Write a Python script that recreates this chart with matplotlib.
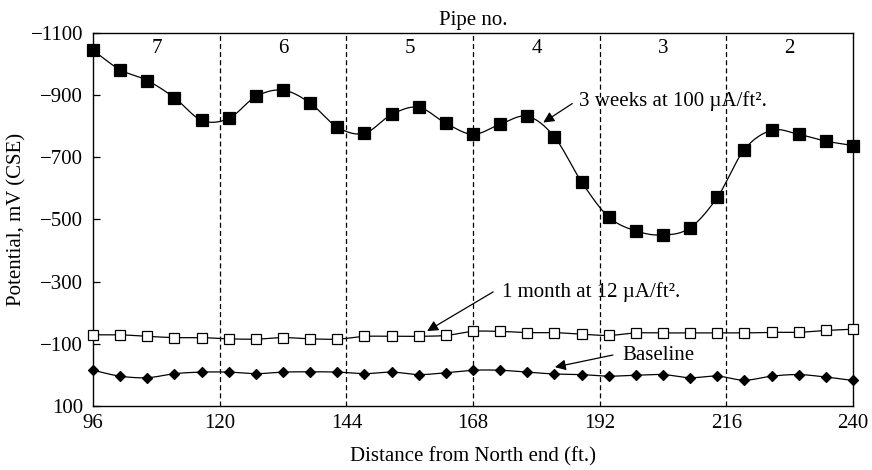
import numpy as np
import matplotlib.pyplot as plt
from matplotlib.ticker import FixedFormatter

plt.rcParams['font.family'] = ['Liberation Serif', 'DejaVu Serif']

# distance along the line (ft)
distance = [96.0, 101.1, 106.3, 111.4, 116.6, 121.7, 126.9, 132.0, 137.1, 142.3,
            147.4, 152.6, 157.7, 162.9, 168.0, 173.1, 178.3, 183.4, 188.6, 193.7,
            198.9, 204.0, 209.1, 214.3, 219.4, 224.6, 229.7, 234.9, 240.0]

# potentials, mV (CSE)
three_weeks = [-1044, -982, -947, -892, -819, -825, -896, -916, -875, -797,
               -777, -838, -861, -809, -774, -806, -832, -766, -620, -508,
               -463, -450, -473, -572, -725, -787, -774, -752, -738]
one_month = [-129, -129, -124, -120, -120, -116, -115, -120, -116, -115,
             -124, -124, -124, -127, -140, -140, -136, -136, -131, -127,
             -135, -135, -135, -135, -135, -137, -137, -143, -147]
baseline = [-15, 4, 9, -4, -9, -9, -4, -9, -10, -9,
            -4, -9, -1, -7, -15, -15, -9, -3, -1, 4,
            1, -1, 9, 4, 17, 4, -1, 7, 18]

pipe_bounds = [120, 144, 168, 192, 216]
pipe_centers = [108, 132, 156, 180, 204, 228]
pipe_labels = ['7', '6', '5', '4', '3', '2']
xticks = [96, 120, 144, 168, 192, 216, 240]
yticks = [100, -100, -300, -500, -700, -900, -1100]


def smooth(x, y, n=16):
    # Catmull-Rom curve through the points, only used for the drawn line
    x = np.asarray(x, float)
    y = np.asarray(y, float)
    px = np.concatenate([[2 * x[0] - x[1]], x, [2 * x[-1] - x[-2]]])
    py = np.concatenate([[2 * y[0] - y[1]], y, [2 * y[-1] - y[-2]]])
    t = np.linspace(0, 1, n, endpoint=False)
    xs, ys = [], []
    for i in range(1, len(px) - 2):
        for p, out in ((px, xs), (py, ys)):
            p0, p1, p2, p3 = p[i - 1], p[i], p[i + 1], p[i + 2]
            out.append(0.5 * (2 * p1 + (-p0 + p2) * t
                              + (2 * p0 - 5 * p1 + 4 * p2 - p3) * t ** 2
                              + (-p0 + 3 * p1 - 3 * p2 + p3) * t ** 3))
    xs.append([x[-1]])
    ys.append([y[-1]])
    return np.concatenate(xs), np.concatenate(ys)


fig = plt.figure(figsize=(8.72, 4.70), dpi=100)
ax = fig.add_axes([0.1067, 0.1362, 0.8716, 0.7936])

for b in pipe_bounds:
    ax.axvline(b, color='black', lw=0.9, dashes=(4, 2.5), zorder=1)

fs = 15

for ys, mk, fc, ms in ((three_weeks, 's', 'black', 8),
                       (one_month, 's', 'white', 7),
                       (baseline, 'D', 'black', 5)):
    sx, sy = smooth(distance, ys)
    ax.plot(sx, sy, color='black', lw=0.9, zorder=2, clip_on=False)
    ax.plot(distance, ys, linestyle='none', marker=mk, markersize=ms,
            markerfacecolor=fc, markeredgecolor='black', markeredgewidth=0.9,
            zorder=3, clip_on=False)

for xc, lab in zip(pipe_centers, pipe_labels):
    ax.text(xc, -1050, lab, ha='center', va='center', fontsize=fs)

arrow = dict(arrowstyle='-|>', color='black', lw=0.9, mutation_scale=16,
             shrinkA=0, shrinkB=0)
ax.annotate('', xy=(181.3, -812), xytext=(186.8, -873), arrowprops=arrow)
ax.text(188.1, -880, '3 weeks at 100 µA/ft².', ha='left', va='center', fontsize=fs)
ax.annotate('', xy=(159.3, -141), xytext=(171.8, -267), arrowprops=arrow)
ax.text(173.5, -267, '1 month at 12 µA/ft².', ha='left', va='center', fontsize=fs)
ax.annotate('', xy=(183.5, -25), xytext=(194.5, -64), arrowprops=arrow)
ax.text(196.2, -62, 'Baseline', ha='left', va='center', fontsize=fs)

ax.set_xlim(96, 240)
ax.set_ylim(100, -1100)
ax.set_xticks(xticks)
ax.set_yticks(yticks)
ax.yaxis.set_major_formatter(FixedFormatter(
    [str(v) if v > 0 else '\u2212' + str(-v) for v in yticks]))
ax.tick_params(direction='in', length=5, width=0.9, labelsize=fs)
ax.tick_params(axis='y', pad=7)
ax.tick_params(axis='x', length=0, pad=6)
for s in ax.spines.values():
    s.set_linewidth(1.0)

ax.set_xlabel('Distance from North end (ft.)', fontsize=fs, labelpad=10)
ax.set_ylabel('Potential, mV (CSE)', fontsize=fs, labelpad=3)
ax.set_title('Pipe no.', fontsize=fs, pad=6)

fig.savefig('out.png', dpi=100)
